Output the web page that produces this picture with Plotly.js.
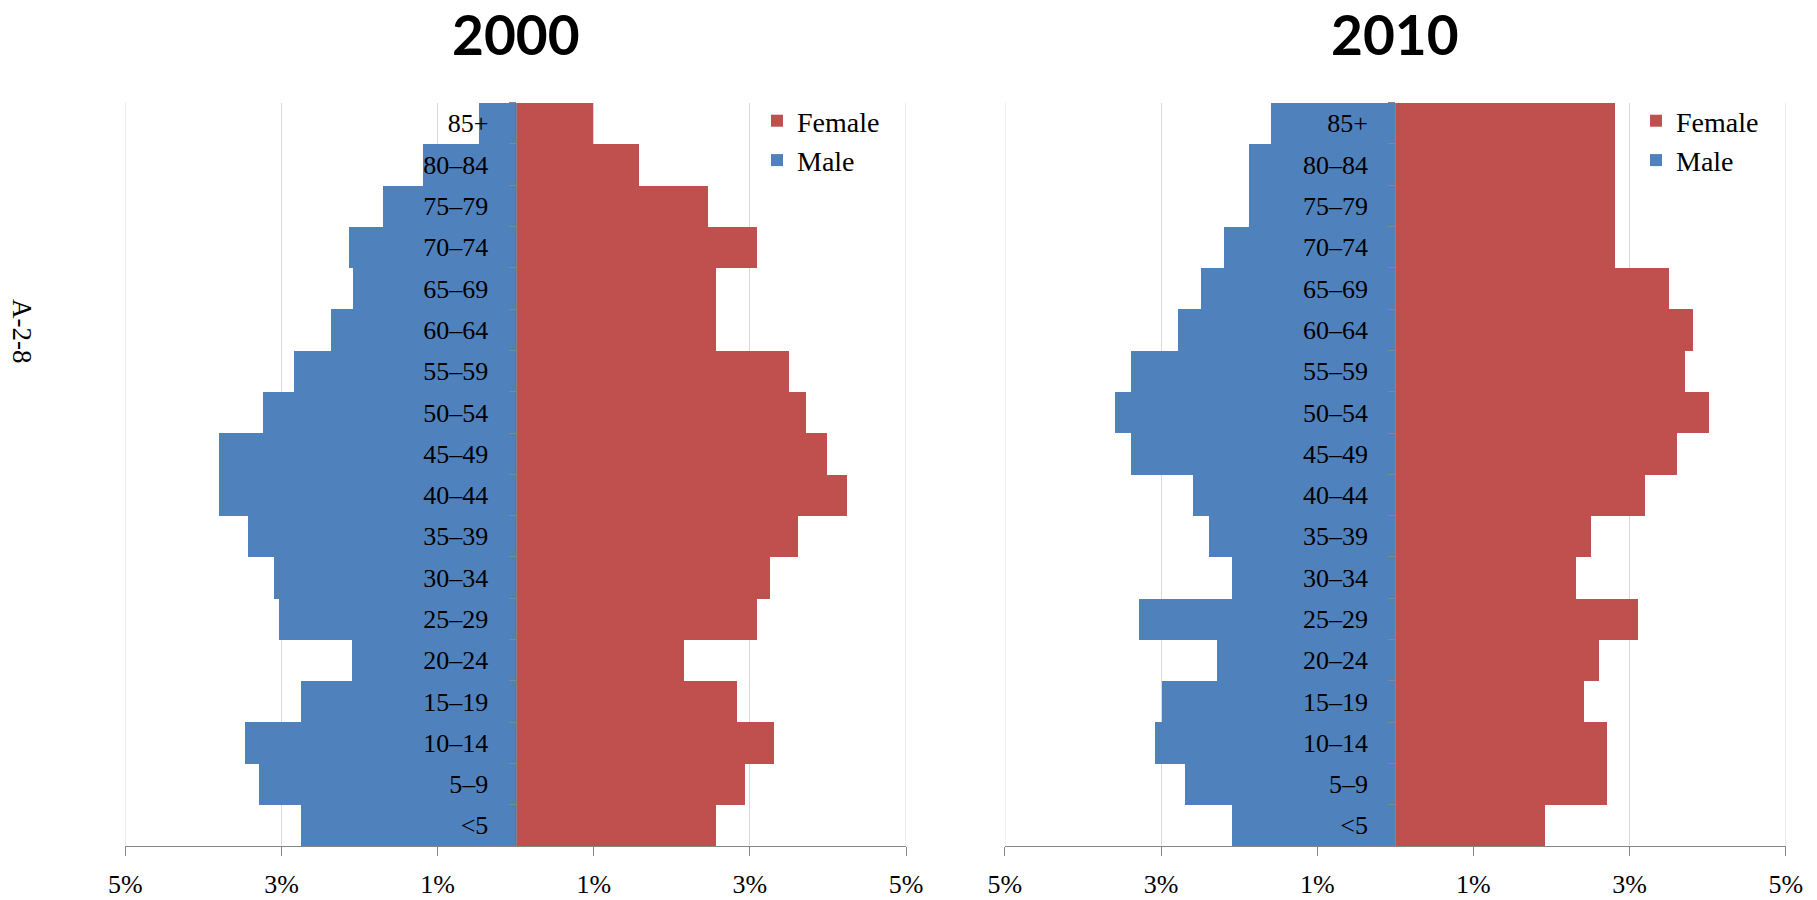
<!DOCTYPE html>
<html>
<head>
<meta charset="utf-8">
<script src="https://cdn.plot.ly/plotly-3.0.1.min.js"></script>
<style>
html, body { margin: 0; padding: 0; background: #ffffff; }
#chart { width: 1817px; height: 900px; }
</style>
</head>
<body>
<div id="chart"></div>
<script>
// Age groups, bottom to top
const ageGroups = ["<5", "5–9", "10–14", "15–19", "20–24", "25–29", "30–34", "35–39", "40–44",
  "45–49", "50–54", "55–59", "60–64", "65–69", "70–74", "75–79", "80–84", "85+"];

// Percent of population, year 2000
const male2000 = [2.75, 3.28, 3.46, 2.75, 2.09, 3.03, 3.09, 3.42, 3.80,
  3.80, 3.23, 2.84, 2.36, 2.08, 2.13, 1.70, 1.18, 0.47];
const female2000 = [2.57, 2.94, 3.31, 2.84, 2.16, 3.09, 3.26, 3.62, 4.25,
  3.99, 3.72, 3.51, 2.57, 2.57, 3.09, 2.47, 1.58, 1.00];

// Percent of population, year 2010
const male2010 = [2.09, 2.69, 3.08, 2.99, 2.29, 3.29, 2.09, 2.39, 2.59,
  3.39, 3.59, 3.39, 2.79, 2.49, 2.19, 1.88, 1.88, 1.59];
const female2010 = [1.91, 2.71, 2.71, 2.41, 2.61, 3.11, 2.31, 2.50, 3.20,
  3.61, 4.01, 3.71, 3.81, 3.50, 2.81, 2.81, 2.81, 2.81];

const panelTitles = ["2000", "2010"];
const seriesNames = ["Female", "Male"];
const tickVals = [-5, -3, -1, 1, 3, 5];
const tickText = ["5%", "3%", "1%", "1%", "3%", "5%"];
const edgeGrid = [-5, 5];
const sideLabel = "A-2-8";

const W = 1817, H = 900;
const femaleColor = "#C0504D";
const maleColor = "#4F81BD";
const axisGrey = "#868686";
const gridGrey = "#D9D9D9";
const serif = "Liberation Serif, Times New Roman, serif";

const xDom1 = [125.4 / W, 906 / W];
const xDom2 = [1004.9 / W, 1785.8 / W];
const yDom = [1 - 846 / H, 1 - 102.7 / H];
const mid = d => (d[0] + d[1]) / 2;

function bars(values, name, color, xa, ya, legendId, sign) {
  return {
    type: "bar", orientation: "h",
    y: ageGroups, x: values.map(v => sign * v),
    name: name, marker: { color: color, line: { width: 0 } },
    xaxis: xa, yaxis: ya, legend: legendId,
    hoverinfo: "y+name"
  };
}

const traces = [
  bars(female2000, seriesNames[0], femaleColor, "x", "y", "legend", 1),
  bars(male2000, seriesNames[1], maleColor, "x", "y", "legend", -1),
  bars(female2010, seriesNames[0], femaleColor, "x2", "y2", "legend2", 1),
  bars(male2010, seriesNames[1], maleColor, "x2", "y2", "legend2", -1)
];

function xAxis(dom, anchor) {
  return {
    domain: dom, anchor: anchor, range: [-5, 5],
    tickvals: tickVals, ticktext: tickText,
    showgrid: true, gridcolor: gridGrey, gridwidth: 1,
    zeroline: false, showline: true, linecolor: axisGrey, linewidth: 1.3,
    ticks: "outside", ticklen: 9, tickwidth: 1.3, tickcolor: axisGrey,
    ticklabelstandoff: 6,
    tickfont: { family: serif, size: 26, color: "#000000" },
    fixedrange: true
  };
}
function yAxis(dom, xd) {
  return {
    domain: yDom, anchor: "free", position: mid(xd),
    type: "category", categoryorder: "array", categoryarray: ageGroups,
    showgrid: false, zeroline: false,
    showline: true, linecolor: axisGrey, linewidth: 1.3,
    ticks: "outside", tickson: "boundaries", ticklen: 7, tickwidth: 1.3, tickcolor: axisGrey,
    ticklabelstandoff: 22,
    tickfont: { family: serif, size: 26, color: "#000000" },
    layer: "above traces",
    fixedrange: true
  };
}

const legendBase = {
  font: { family: serif, size: 28, color: "#000000" },
  bgcolor: "rgba(0,0,0,0)", borderwidth: 0,
  xanchor: "left", yanchor: "top", traceorder: "normal",
  itemclick: false, itemdoubleclick: false
};

// Gridlines at the range edges (Plotly omits them there)
const shapes = [];
[["x", "y"], ["x2", "y2"]].forEach(([xa, ya]) => {
  edgeGrid.forEach(v => {
    shapes.push({ type: "line", layer: "below", xref: xa, yref: ya + " domain",
      x0: v, x1: v, y0: 0, y1: 1, line: { color: gridGrey, width: 1 } });
  });
});

const layout = {
  width: W, height: H,
  margin: { l: 0, r: 0, t: 0, b: 0 },
  paper_bgcolor: "#ffffff", plot_bgcolor: "rgba(0,0,0,0)",
  barmode: "relative", bargap: 0,
  showlegend: true,
  xaxis: xAxis(xDom1, "y"),
  yaxis: yAxis(yDom, xDom1),
  xaxis2: xAxis(xDom2, "y2"),
  yaxis2: yAxis(yDom, xDom2),
  legend: Object.assign({}, legendBase, { x: 757 / W, y: 1 - 96 / H }),
  legend2: Object.assign({}, legendBase, { x: 1636 / W, y: 1 - 96 / H }),
  shapes: shapes,
  annotations: [
    { text: "<b>" + panelTitles[0] + "</b>", xref: "paper", yref: "paper",
      x: mid(xDom1), y: 1 - 34 / H, xanchor: "center", yanchor: "middle", showarrow: false,
      font: { family: "Lato, Open Sans, sans-serif", size: 55, color: "#000000" } },
    { text: "<b>" + panelTitles[1] + "</b>", xref: "paper", yref: "paper",
      x: mid(xDom2), y: 1 - 34 / H, xanchor: "center", yanchor: "middle", showarrow: false,
      font: { family: "Lato, Open Sans, sans-serif", size: 55, color: "#000000" } },
    { text: sideLabel, xref: "paper", yref: "paper",
      x: 22 / W, y: 1 - 331 / H, xanchor: "center", yanchor: "middle", showarrow: false,
      textangle: 90,
      font: { family: serif, size: 27, color: "#000000" } }
  ]
};

Plotly.newPlot("chart", traces, layout, { displayModeBar: false, staticPlot: false });
</script>
</body>
</html>
